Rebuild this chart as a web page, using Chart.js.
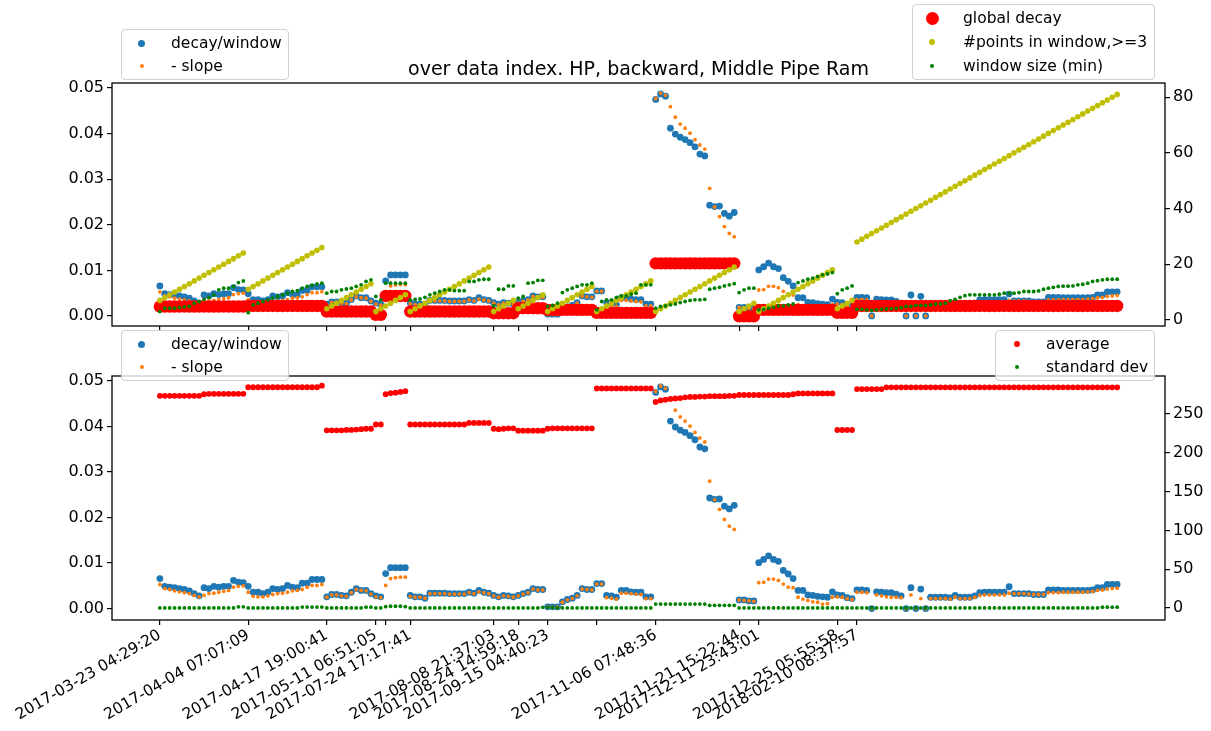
<!DOCTYPE html>
<html>
<head>
<meta charset="utf-8">
<script src="https://cdn.jsdelivr.net/npm/chart.js@4.4.1/dist/chart.umd.min.js"></script>
<style>
  html, body { margin: 0; padding: 0; background: #fff; }
  #wrap { position: relative; width: 1211px; height: 731px; background: #fff; font-family: "DejaVu Sans", sans-serif; color: #000; }
  .pane { position: absolute; left: 0; width: 1211px; }
  .title { position: absolute; left: 112px; width: 1053px; top: 56px; text-align: center; font-size: 19px; line-height: 24px; white-space: nowrap; }
  .leg { position: absolute; box-sizing: border-box; border: 1px solid #d0d0d0; border-radius: 4px; background: rgba(255,255,255,0.8); }
  .leg .row { position: absolute; left: 0; right: 0; height: 22px; }
  .leg .dot { position: absolute; border-radius: 50%; }
  .leg .txt { position: absolute; font-size: 15.5px; line-height: 22px; top: 0; white-space: nowrap; }
</style>
</head>
<body>
<div id="wrap">
  <div class="pane" style="top:0;height:340px"><canvas id="upper" width="1211" height="340"></canvas></div>
  <div class="pane" style="top:340px;height:391px"><canvas id="lower" width="1211" height="391"></canvas></div>

  <div class="title">over data index. HP, backward, Middle Pipe Ram</div>

  <div class="leg" style="left:121px;top:29px;width:168px;height:51px">
    <div class="row" style="top:2px"><span class="dot" style="left:16px;top:7.5px;width:7px;height:7px;background:#1f77b4"></span><span class="txt" style="left:49px">decay/window</span></div>
    <div class="row" style="top:25px"><span class="dot" style="left:17.5px;top:9px;width:4px;height:4px;background:#ff7f0e"></span><span class="txt" style="left:49px">- slope</span></div>
  </div>

  <div class="leg" style="left:912px;top:4px;width:243px;height:76px">
    <div class="row" style="top:2px"><span class="dot" style="left:12.5px;top:4.5px;width:13px;height:13px;background:#ff0000"></span><span class="txt" style="left:50px">global decay</span></div>
    <div class="row" style="top:26px"><span class="dot" style="left:16px;top:8px;width:6px;height:6px;background:#bfbf00"></span><span class="txt" style="left:50px">#points in window,&gt;=3</span></div>
    <div class="row" style="top:50px"><span class="dot" style="left:17px;top:9px;width:4px;height:4px;background:#008000"></span><span class="txt" style="left:50px">window size (min)</span></div>
  </div>

  <div class="leg" style="left:121px;top:330px;width:168px;height:51px">
    <div class="row" style="top:2px"><span class="dot" style="left:16px;top:7.5px;width:7px;height:7px;background:#1f77b4"></span><span class="txt" style="left:49px">decay/window</span></div>
    <div class="row" style="top:25px"><span class="dot" style="left:17.5px;top:9px;width:4px;height:4px;background:#ff7f0e"></span><span class="txt" style="left:49px">- slope</span></div>
  </div>

  <div class="leg" style="left:995px;top:330px;width:160px;height:51px">
    <div class="row" style="top:2px"><span class="dot" style="left:17.5px;top:8px;width:6px;height:6px;background:#ff0000"></span><span class="txt" style="left:50px">average</span></div>
    <div class="row" style="top:25px"><span class="dot" style="left:18.5px;top:9px;width:4px;height:4px;background:#008000"></span><span class="txt" style="left:50px">standard dev</span></div>
  </div>
</div>

<script>
// Tick positions (data index) and their timestamps
const tickIndex = [0, 18, 34, 44, 46, 51, 68, 73, 79, 89, 101, 118, 122, 138, 142];
const tickLabels = [
  '2017-03-23 04:29:20', '2017-04-04 07:07:09', '2017-04-17 19:00:41', '2017-05-11 06:51:05', '',
  '2017-07-24 17:17:41', '2017-08-08 21:37:03', '2017-08-24 14:59:18', '2017-09-15 04:40:23', '',
  '2017-11-06 07:48:36', '2017-11-21 15:22:44', '2017-12-11 23:43:01', '2017-12-25 05:55:58', '2018-02-10 08:37:57'
];

const leftTicks = [0, 0.01, 0.02, 0.03, 0.04, 0.05];
const upperRightTicks = [0, 20, 40, 60, 80];
const lowerRightTicks = [0, 50, 100, 150, 200, 250];

// decay per window
const decayWindow = [
  0.0066,0.0049,0.0047,0.0046,0.0044,0.0042,0.0039,0.0033,0.0028,0.0046,0.0044,0.0049,0.0047,0.0049,0.0049,0.0062,0.0058,0.0057,
  0.0049,0.0036,0.0036,0.0033,0.0036,0.0044,0.0042,0.0044,0.0051,0.0047,0.0046,0.0056,0.0056,0.0064,0.0064,0.0064,
  0.0026,0.0031,0.0031,0.0029,0.0028,0.0036,0.0044,0.0040,0.0040,0.0033,
  0.0028,0.0026,
  0.0077,0.0090,0.0090,0.0090,0.0090,
  0.0029,0.0026,0.0026,0.0023,0.0034,0.0034,0.0034,0.0034,0.0033,0.0033,0.0033,0.0033,0.0036,0.0034,0.0040,0.0036,0.0034,
  0.0029,0.0026,0.0029,0.0028,0.0026,
  0.0029,0.0033,0.0036,0.0044,0.0042,0.0042,
  0.0004,0.0004,0.0004,0.0015,0.0020,0.0023,0.0029,0.0044,0.0042,0.0042,
  0.0055,0.0055,0.0029,0.0028,0.0025,0.0040,0.0040,0.0037,0.0036,0.0036,0.0026,0.0026,
  0.0475,0.0487,0.0482,0.0412,0.0399,0.0392,0.0387,0.0380,0.0371,0.0355,0.0351,0.0243,0.0240,0.0241,0.0225,0.0219,0.0227,
  0.0019,0.0019,0.0017,0.0017,
  0.0101,0.0108,0.0116,0.0108,0.0104,0.0084,0.0076,0.0066,0.0040,0.0040,0.0030,0.0029,0.0027,0.0026,0.0025,0.0037,
  0.0030,0.0029,0.0024,0.0022,
  0.0041,0.0041,0.0040,0.0000,0.0037,0.0036,0.0035,0.0035,0.0032,0.0028,
  0.0000,0.0046,0.0000,0.0043,0.0000,0.0025,0.0025,0.0025,0.0025,0.0024,
  0.0029,0.0025,0.0025,0.0025,0.0028,0.0035,0.0036,0.0036,0.0036,0.0036,
  0.0036,0.0048,0.0033,0.0033,0.0033,0.0033,0.0031,0.0031,0.0031,0.0041,
  0.0041,0.0041,0.0040,0.0040,0.0040,0.0040,0.0040,0.0040,0.0041,0.0046,
  0.0046,0.0053,0.0053,0.0053
];

// negative slope of the fit
const negSlope = [
  0.0053,0.0044,0.0042,0.0039,0.0037,0.0035,0.0033,0.0029,0.0026,0.0029,0.0033,0.0034,0.0036,0.0038,0.0040,0.0047,0.0049,0.0050,
  0.0036,0.0027,0.0026,0.0026,0.0028,0.0031,0.0033,0.0034,0.0036,0.0039,0.0040,0.0042,0.0047,0.0051,0.0051,0.0053,
  0.0025,0.0030,0.0030,0.0028,0.0027,0.0035,0.0042,0.0040,0.0039,0.0032,
  0.0026,0.0024,
  0.0051,0.0066,0.0068,0.0069,0.0069,
  0.0027,0.0025,0.0025,0.0023,0.0033,0.0033,0.0033,0.0033,0.0032,0.0032,0.0032,0.0032,0.0035,0.0033,0.0037,0.0035,0.0033,
  0.0028,0.0025,0.0028,0.0027,0.0025,
  0.0028,0.0032,0.0035,0.0043,0.0041,0.0041,
  0.0003,0.0003,0.0003,0.0014,0.0019,0.0022,0.0028,0.0043,0.0042,0.0041,
  0.0054,0.0054,0.0024,0.0023,0.0021,0.0034,0.0034,0.0033,0.0032,0.0031,0.0022,0.0022,
  0.0477,0.0489,0.0484,0.0459,0.0436,0.0421,0.0412,0.0401,0.0387,0.0375,0.0366,0.0280,0.0239,0.0218,0.0196,0.0181,0.0174,
  0.0019,0.0018,0.0017,0.0016,
  0.0057,0.0058,0.0065,0.0065,0.0062,0.0054,0.0047,0.0046,0.0025,0.0021,0.0018,0.0015,0.0014,0.0010,0.0011,0.0025,
  0.0026,0.0025,0.0022,0.0020,
  0.0036,0.0036,0.0035,0.0000,0.0030,0.0028,0.0026,0.0025,0.0025,0.0024,
  0.0000,0.0030,0.0000,0.0022,0.0000,0.0022,0.0022,0.0022,0.0022,0.0021,
  0.0025,0.0022,0.0022,0.0022,0.0025,0.0029,0.0030,0.0030,0.0030,0.0030,
  0.0030,0.0034,0.0033,0.0033,0.0033,0.0032,0.0031,0.0031,0.0031,0.0035,
  0.0035,0.0035,0.0036,0.0036,0.0036,0.0036,0.0036,0.0037,0.0038,0.0040,
  0.0041,0.0043,0.0044,0.0045
];

// global decay (right axis, upper panel)
const globalDecay = [
  4.8,4.8,4.8,4.8,4.8,4.8,4.8,4.8,4.8,4.8,4.8,4.8,4.8,4.8,4.8,4.8,4.8,4.8,
  5.0,5.0,5.0,5.0,5.0,5.0,5.0,5.0,5.0,5.0,5.0,5.0,5.0,5.0,5.0,5.0,
  3.0,3.0,3.0,3.0,3.0,3.0,3.0,3.0,3.0,3.0,
  1.8,1.8,
  8.6,8.6,8.6,8.6,8.6,
  3.0,3.0,3.0,3.0,3.0,3.0,3.0,3.0,3.0,3.0,3.0,3.0,3.0,3.0,3.0,3.0,3.0,
  2.4,2.4,2.4,2.4,2.4,
  4.2,4.2,4.2,4.2,4.2,4.2,
  3.6,3.6,3.6,3.6,3.6,3.6,3.6,3.6,3.6,3.6,
  2.5,2.5,2.5,2.5,2.5,2.5,2.5,2.5,2.5,2.5,2.5,2.5,
  20.3,20.3,20.3,20.3,20.3,20.3,20.3,20.3,20.3,20.3,20.3,20.3,20.3,20.3,20.3,20.3,20.3,
  1.3,1.3,1.3,1.3,
  3.6,3.6,3.6,3.6,3.6,3.6,3.6,3.6,3.6,3.6,3.6,3.6,3.6,3.6,3.6,3.6,
  2.5,2.5,2.5,2.5,
  5.0,5.0,5.0,5.0,5.0,5.0,5.0,5.0,5.0,5.0,5.0,5.0,5.0,5.0,5.0,5.0,5.0,5.0,
  5.0,5.0,5.0,5.0,5.0,5.0,5.0,5.0,5.0,5.0,5.0,5.0,5.0,5.0,5.0,5.0,5.0,5.0,
  5.0,5.0,5.0,5.0,5.0,5.0,5.0,5.0,5.0,5.0,5.0,5.0,5.0,5.0,5.0,5.0,5.0,5.0
];

// number of points in window (>=3)
const pointsInWindow = [
  7,8,9,10,11,12,13,14,15,16,17,18,19,20,21,22,23,24,
  11,12,13,14,15,16,17,18,19,20,21,22,23,24,25,26,
  4,5,6,7,8,9,10,11,12,13,
  3,4,
  5,6,7,8,9,
  3,4,5,6,7,8,9,10,11,12,13,14,15,16,17,18,19,
  3,4,5,6,7,
  4,5,6,7,8,9,
  3,4,5,6,7,8,9,10,11,12,
  3,4,5,6,7,8,9,10,11,12,13,14,
  3,4,5,6,7,8,9,10,11,12,13,14,15,16,17,18,19,
  3,4,5,6,
  3,4,5,6,7,8,9,10,11,12,13,14,15,16,17,18,
  4,5,6,7,
  28,29,30,31,32,33,34,35,36,37,38,39,40,41,42,43,44,45,46,47,48,49,50,51,52,53,54,
  55,56,57,58,59,60,61,62,63,64,65,66,67,68,69,70,71,72,73,74,75,76,77,78,79,80,81
];

// window size in minutes
const windowSize = [
  3,4.2,4.2,4.2,4.5,4.7,4.9,6,6.6,7.4,8.1,9,10.8,11.4,11.4,12,13.4,14,
  2.6,5.4,6,6.6,7.2,7.8,8.4,9,9.6,10.2,10.5,11.4,12,12.4,12.9,13.2,
  9.6,10.2,10.2,10.8,11.1,11.4,12,12.6,13.8,14.4,
  8.4,7.2,
  13.2,13.2,13.2,13.2,13.2,
  7.2,7.4,7.5,8.1,9,9.6,10.2,10.8,10.8,10.5,10.5,10.5,13.8,13.8,14.4,14.6,14.6,
  5,11,11,12.2,12.2,
  7.8,8.4,13.2,13.4,14.2,14.2,
  4.8,5.2,6,9.8,10.8,11.4,12,12.6,12.6,13.2,
  3.6,6.6,7.2,7.2,8.1,8.6,8.6,9.2,9.6,12.6,12.6,12.6,
  4.2,4.8,5,5.4,5.7,6.2,6.6,7,7.2,7.2,7.4,11,11.4,11.7,12.2,12.6,13,
  9.8,10.8,11.4,11.4,
  3.6,3.8,4.2,4.5,5,5,5.4,5.7,13.4,14,14.6,15,15.6,16.2,16.5,17,
  9.4,10.8,11.4,12.2,
  3.8,3.8,3.6,3.4,3.6,3.8,3.9,4.0,4.1,4.4,
  4.8,4.8,5.2,5.2,5.2,5.4,5.7,5.7,6.0,6.9,
  7.4,8.1,8.7,9.0,9.0,9.0,9.0,9.0,9.0,9.2,
  9.6,9.6,9.6,9.8,10.2,10.2,10.2,10.4,11.0,11.4,
  11.7,12.0,12.1,12.1,12.2,12.6,12.8,13.2,13.8,14.1,
  14.4,14.6,14.6,14.6
];

// window average (right axis, lower panel)
const average = [
  273.5,273.5,273.5,273.5,273.5,273.5,273.5,273.5,273.5,275.5,276,276,276,276,276,276,276,276,
  284.5,284.5,284.5,284.5,284.5,284.5,284.5,284.5,284.5,284.5,284.5,284.5,284.5,284.5,284.5,286.5,
  229,229,229,229,229.5,229.5,230,230.5,231,231,
  236.5,236.5,
  275.5,277,277.5,278.5,279.5,
  236.5,236.5,236.5,236.5,236.5,236.5,236.5,236.5,236.5,236.5,236.5,236.5,238.5,238.5,238.5,238.5,238.5,
  231,230.5,231,231.5,231.5,
  228.5,228.5,228.5,228.5,228.5,228.5,
  231,231.5,231.5,231.5,231.5,231.5,231.5,231.5,231.5,231.5,
  283,283,283,283,283,283,283,283,283,283,283,283,
  265.5,267.5,268.5,269.5,270,270.5,271.5,272,272,272.5,272.5,273,273,273,273,273.5,273.5,
  274.5,274.5,274.5,274.5,
  274.5,274.5,274.5,274.5,274.5,274.5,274.5,275.5,276.5,276.5,276.5,276.5,276.5,276.5,276.5,276.5,
  229.4,229.4,229.4,229.4,
  282.2,282.2,282.2,282.2,282.2,282.2,284.4,284.4,284.4,284.4,284.4,284.4,284.4,284.4,284.4,284.4,
  284.4,284.4,284.4,284.4,284.4,284.4,284.4,284.4,284.4,284.4,284.4,284.4,284.4,284.4,284.4,284.4,
  284.4,284.4,284.4,284.4,284.4,284.4,284.4,284.4,284.4,284.4,284.4,284.4,284.4,284.4,284.4,284.4,
  284.4,284.4,284.4,284.4,284.4,284.4
];

// window standard deviation (right axis, lower panel)
const stdDev = [
  0,0,0,0,0,0,0,0,0,0,0,0,0,0,0,0,1.5,1.5,
  0,0,0,0,0,0,0,0,0,0,0,1.2,1.2,1.2,1.2,1.2,
  0,0,0,0,0,0,0,0,1,1,
  0,0,
  1.7,2.2,2.2,2.2,1.7,
  0,0,0,0,0,0,0,0,0,0,0,0,0,0,0,0,0,
  0,0,0,0,0,
  0,0,0,0,0,0.8,
  0.8,0.8,0,0,0,0,0,0,0,0,
  0,0,0,0,0,0,0,0,0,0,0,0,
  5,5,5,5,5,5,5,5,5,5,5,3.4,3.4,3.4,3.4,3.4,3.4,
  0,0,0,0,
  0,0,0,0,0,0,0,0,0,0,0,0,0,0,0,0,
  0,0,0,0,
  0,0,0,0,0,0,0,0,0,0,0,0,0,0,0,0,0,0,0,0,0,0,0,0,0,0,0,
  0,0,0,0,0,0,0,0,0,0,0,0,0,0,0,0,0,0,0,0,0,0,0,1,1,1,1
];

const pts = arr => arr.map((v, i) => ({ x: i, y: v }));
const lastIndex = decayWindow.length - 1;
const xMargin = lastIndex * 0.05;
const font = { family: 'DejaVu Sans', size: 16 };

// Draws the full rectangular frame around the plotting area
const frame = {
  id: 'frame',
  afterDatasetsDraw(chart) {
    const a = chart.chartArea, ctx = chart.ctx;
    ctx.save();
    ctx.strokeStyle = '#000';
    ctx.lineWidth = 1.3;
    ctx.strokeRect(a.left, a.top, a.right - a.left, a.bottom - a.top);
    ctx.restore();
  }
};

function scatterSet(label, data, color, radius, axis, order) {
  return {
    label, data: pts(data), yAxisID: axis, order,
    backgroundColor: color, borderColor: color, borderWidth: 0,
    pointRadius: radius, pointHoverRadius: radius, pointStyle: 'circle', showLine: false
  };
}

function yAxis(position, min, max, ticks, width, fmt) {
  return {
    type: 'linear', position, min, max,
    afterBuildTicks: ax => { ax.ticks = ticks.map(v => ({ value: v })); },
    afterFit: ax => { ax.width = width; ax.paddingTop = 0; ax.paddingBottom = 0; },
    grid: { drawOnChartArea: false, drawTicks: true, tickLength: 5, color: '#000', lineWidth: 1.2 },
    border: { display: false },
    ticks: { font, color: '#000', padding: 3, callback: fmt }
  };
}

function xAxis(showLabels, height) {
  return {
    type: 'linear', min: -xMargin, max: lastIndex + xMargin,
    afterBuildTicks: ax => { ax.ticks = tickIndex.map(v => ({ value: v })); },
    afterFit: ax => { ax.height = height; ax.paddingLeft = 0; ax.paddingRight = 0; },
    grid: { drawOnChartArea: false, drawTicks: true, tickLength: 5, color: '#000', lineWidth: 1.2 },
    border: { display: false },
    ticks: {
      display: showLabels, autoSkip: false, minRotation: 30, maxRotation: 30, padding: 1,
      font: { family: 'DejaVu Sans', size: 15.5 }, color: '#000',
      callback: v => { const k = tickIndex.indexOf(v); return k >= 0 ? tickLabels[k] : ''; }
    }
  };
}

const common = {
  responsive: false, animation: false, devicePixelRatio: 1,
  plugins: { legend: { display: false }, tooltip: { enabled: false } },
  events: []
};

new Chart(document.getElementById('upper'), {
  type: 'scatter',
  data: {
    datasets: [
      scatterSet('decay/window', decayWindow, '#1f77b4', 3.4, 'y', 5),
      scatterSet('- slope', negSlope, '#ff7f0e', 1.9, 'y', 4),
      scatterSet('global decay', globalDecay, '#ff0000', 6.2, 'y2', 3),
      scatterSet('#points in window,>=3', pointsInWindow, '#bfbf00', 2.8, 'y2', 2),
      scatterSet('window size (min)', windowSize, '#008000', 1.9, 'y2', 1)
    ]
  },
  options: Object.assign({}, common, {
    layout: { autoPadding: false, padding: { top: 83, left: 0, right: 0, bottom: 0 } },
    scales: {
      x: xAxis(false, 14),
      y: yAxis('left', -0.0022, 0.0511, leftTicks, 112, v => v.toFixed(2)),
      y2: yAxis('right', -2.2, 85.1, upperRightTicks, 46, v => String(v))
    }
  }),
  plugins: [frame]
});

new Chart(document.getElementById('lower'), {
  type: 'scatter',
  data: {
    datasets: [
      scatterSet('decay/window', decayWindow, '#1f77b4', 3.4, 'y', 5),
      scatterSet('- slope', negSlope, '#ff7f0e', 1.9, 'y', 4),
      scatterSet('average', average, '#ff0000', 2.9, 'y2', 2),
      scatterSet('standard dev', stdDev, '#008000', 1.9, 'y2', 1)
    ]
  },
  options: Object.assign({}, common, {
    layout: { autoPadding: false, padding: { top: 36, left: 0, right: 0, bottom: 0 } },
    scales: {
      x: xAxis(true, 111),
      y: yAxis('left', -0.0025, 0.0511, leftTicks, 112, v => v.toFixed(2)),
      y2: yAxis('right', -15.5, 299, lowerRightTicks, 46, v => String(v))
    }
  }),
  plugins: [frame]
});
</script>
</body>
</html>
